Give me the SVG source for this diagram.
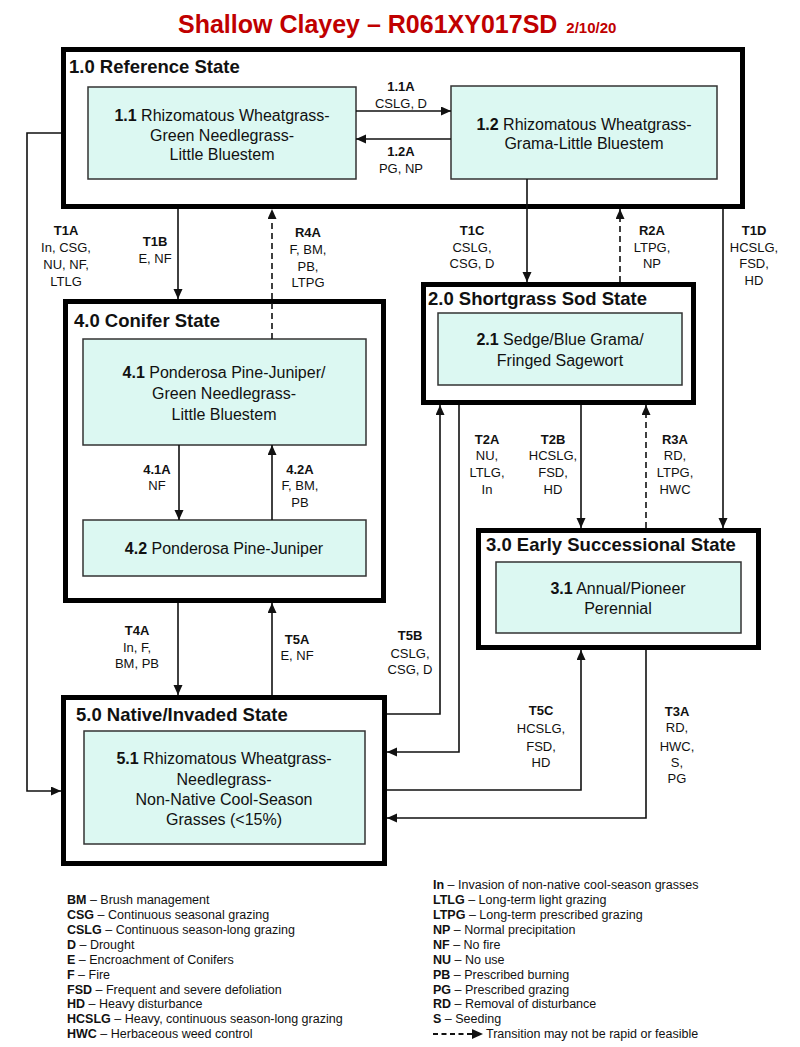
<svg xmlns="http://www.w3.org/2000/svg" width="800" height="1047" viewBox="0 0 800 1047">
<style>
text{font-family:"Liberation Sans",Arial,sans-serif;fill:#111}
.title{font-size:25px;font-weight:bold;fill:#c00000}
.date{font-size:15px;font-weight:bold;fill:#c00000}
.state{fill:#fff;stroke:#000;stroke-width:5}
.stitle{font-size:18.5px;font-weight:bold}
.comm{fill:#dcf8f2;stroke:#333;stroke-width:1.5}
.ct{font-size:16px;text-anchor:middle}
.lbl{font-size:13px;text-anchor:middle}
.b{font-weight:bold}
.con{fill:none;stroke:#111;stroke-width:1.6}
.dash{stroke-dasharray:6,4}
.leg{font-size:12.5px}
</style>
<defs>
<marker id="ah" markerUnits="userSpaceOnUse" markerWidth="10" markerHeight="10" refX="10" refY="4.5" orient="auto">
<path d="M0,0 L10,4.5 L0,9 z" fill="#111"/>
</marker>
</defs>

<rect width="800" height="1047" fill="#fff"/>

<text x="178" y="33" class="title">Shallow Clayey – R061XY017SD <tspan class="date" dx="2">2/10/20</tspan></text>

<g id="state1">
<rect class="state" x="63.5" y="49.5" width="679" height="157"/>
<text x="69" y="73" class="stitle">1.0 Reference State</text>
</g>
<g id="comm11">
<rect class="comm" x="88" y="87" width="268" height="92"/>
<text class="ct" x="222" y="121"><tspan class="b">1.1</tspan> Rhizomatous Wheatgrass-</text>
<text class="ct" x="222" y="140.5">Green Needlegrass-</text>
<text class="ct" x="222" y="160">Little Bluestem</text>
</g>
<g id="comm12">
<rect class="comm" x="451" y="86" width="266" height="93"/>
<text class="ct" x="584" y="130"><tspan class="b">1.2</tspan> Rhizomatous Wheatgrass-</text>
<text class="ct" x="584" y="149">Grama-Little Bluestem</text>
</g>

<g id="state2">
<rect class="state" x="423.5" y="284.5" width="270" height="118"/>
<text x="428" y="305" class="stitle">2.0 Shortgrass Sod State</text>
</g>
<g id="comm21">
<rect class="comm" x="438" y="313" width="244" height="72"/>
<text class="ct" x="560" y="345"><tspan class="b">2.1</tspan> Sedge/Blue Grama/</text>
<text class="ct" x="560" y="366">Fringed Sagewort</text>
</g>

<g id="state3">
<rect class="state" x="478.5" y="530.5" width="280" height="117"/>
<text x="486" y="551" class="stitle">3.0 Early Successional State</text>
</g>
<g id="comm31">
<rect class="comm" x="496" y="562" width="245" height="71"/>
<text class="ct" x="618" y="594"><tspan class="b">3.1</tspan> Annual/Pioneer</text>
<text class="ct" x="618" y="614">Perennial</text>
</g>

<g id="state4">
<rect class="state" x="65.5" y="301.5" width="318" height="299"/>
<text x="74" y="327" class="stitle">4.0 Conifer State</text>
</g>
<g id="comm41">
<rect class="comm" x="83" y="339" width="283" height="106"/>
<text class="ct" x="224" y="378"><tspan class="b">4.1</tspan> Ponderosa Pine-Juniper/</text>
<text class="ct" x="224" y="399">Green Needlegrass-</text>
<text class="ct" x="224" y="420">Little Bluestem</text>
</g>
<g id="comm42">
<rect class="comm" x="83" y="520" width="283" height="56"/>
<text class="ct" x="224" y="554"><tspan class="b">4.2</tspan> Ponderosa Pine-Juniper</text>
</g>

<g id="state5">
<rect class="state" x="63.5" y="697.5" width="321" height="166"/>
<text x="76" y="721" class="stitle">5.0 Native/Invaded State</text>
</g>
<g id="comm51">
<rect class="comm" x="84" y="731" width="281" height="113"/>
<text class="ct" x="224" y="764"><tspan class="b">5.1</tspan> Rhizomatous Wheatgrass-</text>
<text class="ct" x="224" y="785">Needlegrass-</text>
<text class="ct" x="224" y="805">Non-Native Cool-Season</text>
<text class="ct" x="224" y="825">Grasses (&lt;15%)</text>
</g>

<g id="connectors">
<path class="con" d="M356,111 H451" marker-end="url(#ah)"/>
<path class="con" d="M451,139 H356" marker-end="url(#ah)"/>
<path class="con" d="M61,133 H27 V791 H61" marker-end="url(#ah)"/>
<path class="con" d="M178,209 V299" marker-end="url(#ah)"/>
<path class="con dash" d="M272,339 V209" marker-end="url(#ah)"/>
<path class="con" d="M527,179 V282" marker-end="url(#ah)"/>
<path class="con dash" d="M620,282 V209" marker-end="url(#ah)"/>
<path class="con" d="M723,209 V528" marker-end="url(#ah)"/>
<path class="con" d="M179,445 V520" marker-end="url(#ah)"/>
<path class="con" d="M272,520 V445" marker-end="url(#ah)"/>
<path class="con" d="M178,603 V695" marker-end="url(#ah)"/>
<path class="con" d="M272,695 V603" marker-end="url(#ah)"/>
<path class="con" d="M387,714 H440 V405" marker-end="url(#ah)"/>
<path class="con" d="M459,405 V752 H387" marker-end="url(#ah)"/>
<path class="con" d="M581,405 V528" marker-end="url(#ah)"/>
<path class="con dash" d="M646,528 V405" marker-end="url(#ah)"/>
<path class="con" d="M387,790 H581 V650" marker-end="url(#ah)"/>
<path class="con" d="M646,650 V818 H387" marker-end="url(#ah)"/>
</g>

<g id="labels">
<text class="lbl b" x="401" y="91">1.1A</text>
<text class="lbl" x="401" y="108">CSLG, D</text>
<text class="lbl b" x="401" y="156">1.2A</text>
<text class="lbl" x="401" y="173">PG, NP</text>

<text class="lbl b" x="66" y="235">T1A</text>
<text class="lbl" x="66" y="252">In, CSG,</text>
<text class="lbl" x="66" y="269">NU, NF,</text>
<text class="lbl" x="66" y="286">LTLG</text>

<text class="lbl b" x="155" y="246">T1B</text>
<text class="lbl" x="155" y="263">E, NF</text>

<text class="lbl b" x="308" y="237">R4A</text>
<text class="lbl" x="308" y="254">F, BM,</text>
<text class="lbl" x="308" y="271">PB,</text>
<text class="lbl" x="308" y="287">LTPG</text>

<text class="lbl b" x="472" y="235">T1C</text>
<text class="lbl" x="472" y="252">CSLG,</text>
<text class="lbl" x="472" y="268">CSG, D</text>

<text class="lbl b" x="652" y="235">R2A</text>
<text class="lbl" x="652" y="252">LTPG,</text>
<text class="lbl" x="652" y="268">NP</text>

<text class="lbl b" x="754" y="235">T1D</text>
<text class="lbl" x="754" y="252">HCSLG,</text>
<text class="lbl" x="754" y="268">FSD,</text>
<text class="lbl" x="754" y="285">HD</text>

<text class="lbl b" x="157" y="474">4.1A</text>
<text class="lbl" x="157" y="490">NF</text>

<text class="lbl b" x="300" y="474">4.2A</text>
<text class="lbl" x="300" y="490">F, BM,</text>
<text class="lbl" x="300" y="507">PB</text>

<text class="lbl b" x="487" y="444">T2A</text>
<text class="lbl" x="487" y="460">NU,</text>
<text class="lbl" x="487" y="477">LTLG,</text>
<text class="lbl" x="487" y="494">In</text>

<text class="lbl b" x="553" y="444">T2B</text>
<text class="lbl" x="553" y="460">HCSLG,</text>
<text class="lbl" x="553" y="477">FSD,</text>
<text class="lbl" x="553" y="494">HD</text>

<text class="lbl b" x="675" y="444">R3A</text>
<text class="lbl" x="675" y="460">RD,</text>
<text class="lbl" x="675" y="477">LTPG,</text>
<text class="lbl" x="675" y="494">HWC</text>

<text class="lbl b" x="137" y="635">T4A</text>
<text class="lbl" x="137" y="652">In, F,</text>
<text class="lbl" x="137" y="668">BM, PB</text>

<text class="lbl b" x="297" y="644">T5A</text>
<text class="lbl" x="297" y="660">E, NF</text>

<text class="lbl b" x="410" y="640">T5B</text>
<text class="lbl" x="410" y="658">CSLG,</text>
<text class="lbl" x="410" y="674">CSG, D</text>

<text class="lbl b" x="541" y="715">T5C</text>
<text class="lbl" x="541" y="733">HCSLG,</text>
<text class="lbl" x="541" y="751">FSD,</text>
<text class="lbl" x="541" y="767">HD</text>

<text class="lbl b" x="677" y="716">T3A</text>
<text class="lbl" x="677" y="732">RD,</text>
<text class="lbl" x="677" y="751">HWC,</text>
<text class="lbl" x="677" y="767">S,</text>
<text class="lbl" x="677" y="783">PG</text>
</g>

<g id="legend">
<text class="leg" x="67" y="904"><tspan class="b">BM</tspan> – Brush management</text>
<text class="leg" x="67" y="919"><tspan class="b">CSG</tspan> – Continuous seasonal grazing</text>
<text class="leg" x="67" y="934"><tspan class="b">CSLG</tspan> – Continuous season-long grazing</text>
<text class="leg" x="67" y="949"><tspan class="b">D</tspan> – Drought</text>
<text class="leg" x="67" y="964"><tspan class="b">E</tspan> – Encroachment of Conifers</text>
<text class="leg" x="67" y="979"><tspan class="b">F</tspan> – Fire</text>
<text class="leg" x="67" y="994"><tspan class="b">FSD</tspan> – Frequent and severe defoliation</text>
<text class="leg" x="67" y="1008"><tspan class="b">HD</tspan> – Heavy disturbance</text>
<text class="leg" x="67" y="1023"><tspan class="b">HCSLG</tspan> – Heavy, continuous season-long grazing</text>
<text class="leg" x="67" y="1038"><tspan class="b">HWC</tspan> – Herbaceous weed control</text>

<text class="leg" x="433" y="889"><tspan class="b">In</tspan> – Invasion of non-native cool-season grasses</text>
<text class="leg" x="433" y="904"><tspan class="b">LTLG</tspan> – Long-term light grazing</text>
<text class="leg" x="433" y="919"><tspan class="b">LTPG</tspan> – Long-term prescribed grazing</text>
<text class="leg" x="433" y="934"><tspan class="b">NP</tspan> – Normal precipitation</text>
<text class="leg" x="433" y="949"><tspan class="b">NF</tspan> – No fire</text>
<text class="leg" x="433" y="964"><tspan class="b">NU</tspan> – No use</text>
<text class="leg" x="433" y="979"><tspan class="b">PB</tspan> – Prescribed burning</text>
<text class="leg" x="433" y="994"><tspan class="b">PG</tspan> – Prescribed grazing</text>
<text class="leg" x="433" y="1008"><tspan class="b">RD</tspan> – Removal of disturbance</text>
<text class="leg" x="433" y="1023"><tspan class="b">S</tspan> – Seeding</text>
<path d="M433,1034 H472" stroke="#111" stroke-width="2" stroke-dasharray="5,3.5" fill="none"/>
<path d="M472,1029 L483,1034 L472,1039 z" fill="#111"/>
<text class="leg" x="486" y="1038">Transition may not be rapid or feasible</text>
</g>
</svg>
